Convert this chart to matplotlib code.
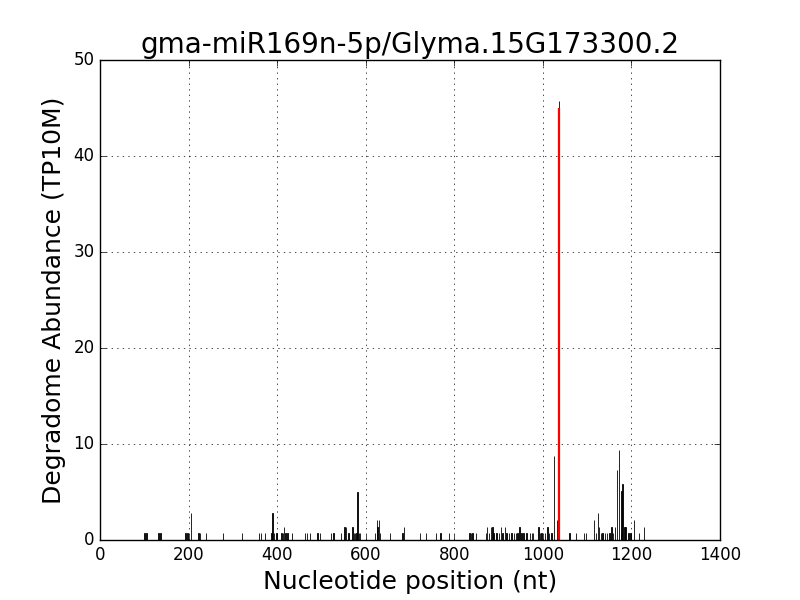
import matplotlib
matplotlib.use('Agg')
from matplotlib import pyplot as plt

title = 'gma-miR169n-5p/Glyma.15G173300.2'

# degradome reads: position (nt) and abundance (TP10M)
positions = [100, 105, 132, 137, 193, 198, 205, 222, 226, 239, 278, 321,
             359, 363, 372, 387, 390, 393, 399, 410, 413, 416, 419, 423,
             433, 463, 468, 474, 491, 497, 521, 527, 544, 552, 555, 561,
             570, 573, 576, 579, 581, 585, 587, 621, 625, 627, 630, 632,
             655, 683, 687, 722, 736, 759, 769, 788, 834, 838, 841, 849,
             871, 874, 878, 883, 886, 889, 895, 901, 905, 909, 914, 918,
             924, 929, 935, 939, 943, 947, 952, 956, 963, 971, 975, 978,
             990, 993, 997, 1005, 1010, 1014, 1020, 1025, 1032, 1037,
             1060, 1075, 1093, 1097, 1115, 1120, 1125, 1127, 1131, 1135,
             1140, 1145, 1150, 1155, 1159, 1163, 1168, 1172, 1176, 1178,
             1180, 1184, 1187, 1193, 1198, 1206, 1217, 1229]
abundance = [0.7, 0.7, 0.7, 0.7, 0.7, 0.7, 2.8, 0.7, 0.7, 0.7, 0.7, 0.7,
             0.7, 0.7, 0.7, 0.7, 2.8, 0.7, 0.7, 0.7, 0.7, 1.4, 0.7, 0.7,
             0.7, 0.7, 0.7, 0.7, 0.7, 0.7, 0.7, 0.7, 0.7, 1.4, 1.4, 0.7,
             1.4, 0.7, 0.7, 0.7, 5.0, 0.7, 0.7, 0.7, 2.1, 1.4, 2.1, 0.7,
             0.7, 0.7, 1.4, 0.7, 0.7, 0.7, 0.7, 0.7, 0.7, 0.7, 0.7, 0.7,
             0.7, 1.4, 0.7, 1.4, 1.4, 0.7, 0.7, 0.7, 1.4, 0.7, 1.4, 0.7,
             0.7, 0.7, 0.7, 0.7, 0.7, 1.4, 0.7, 0.7, 0.7, 0.7, 0.7, 0.7,
             1.4, 0.7, 0.7, 0.7, 1.4, 0.7, 0.7, 8.7, 2.1, 45.7,
             0.7, 0.7, 0.7, 0.7, 2.1, 0.7, 2.8, 1.4, 0.7, 0.7,
             0.7, 0.7, 0.7, 1.4, 0.7, 1.4, 7.3, 9.4, 0.7, 5.1,
             5.8, 1.4, 1.4, 0.7, 0.7, 2.1, 0.7, 1.4]

# predicted cleavage site
site_pos = [1036]
site_val = [45.0]

plt.style.use('classic')
fig = plt.figure(figsize=(8, 6), dpi=100)
ax = fig.add_subplot(111)
fig.subplots_adjust(left=0.125, right=0.9, bottom=0.1, top=0.9)

ax.bar(positions, abundance, width=1, color='k', edgecolor='k',
       linewidth=0.6, align='center')
ax.bar(site_pos, site_val, width=1, color='red', edgecolor='red',
       linewidth=1.6, align='center')

ax.set_xlim(0, 1400)
ax.set_ylim(0, 50)
ax.grid(True)
ax.tick_params(labelsize=12)
ax.set_title(title, fontsize=20)
ax.set_xlabel('Nucleotide position (nt)', fontsize=18)
ax.set_ylabel('Degradome Abundance (TP10M)', fontsize=18)

plt.savefig('out.png', dpi=100, facecolor='white')
